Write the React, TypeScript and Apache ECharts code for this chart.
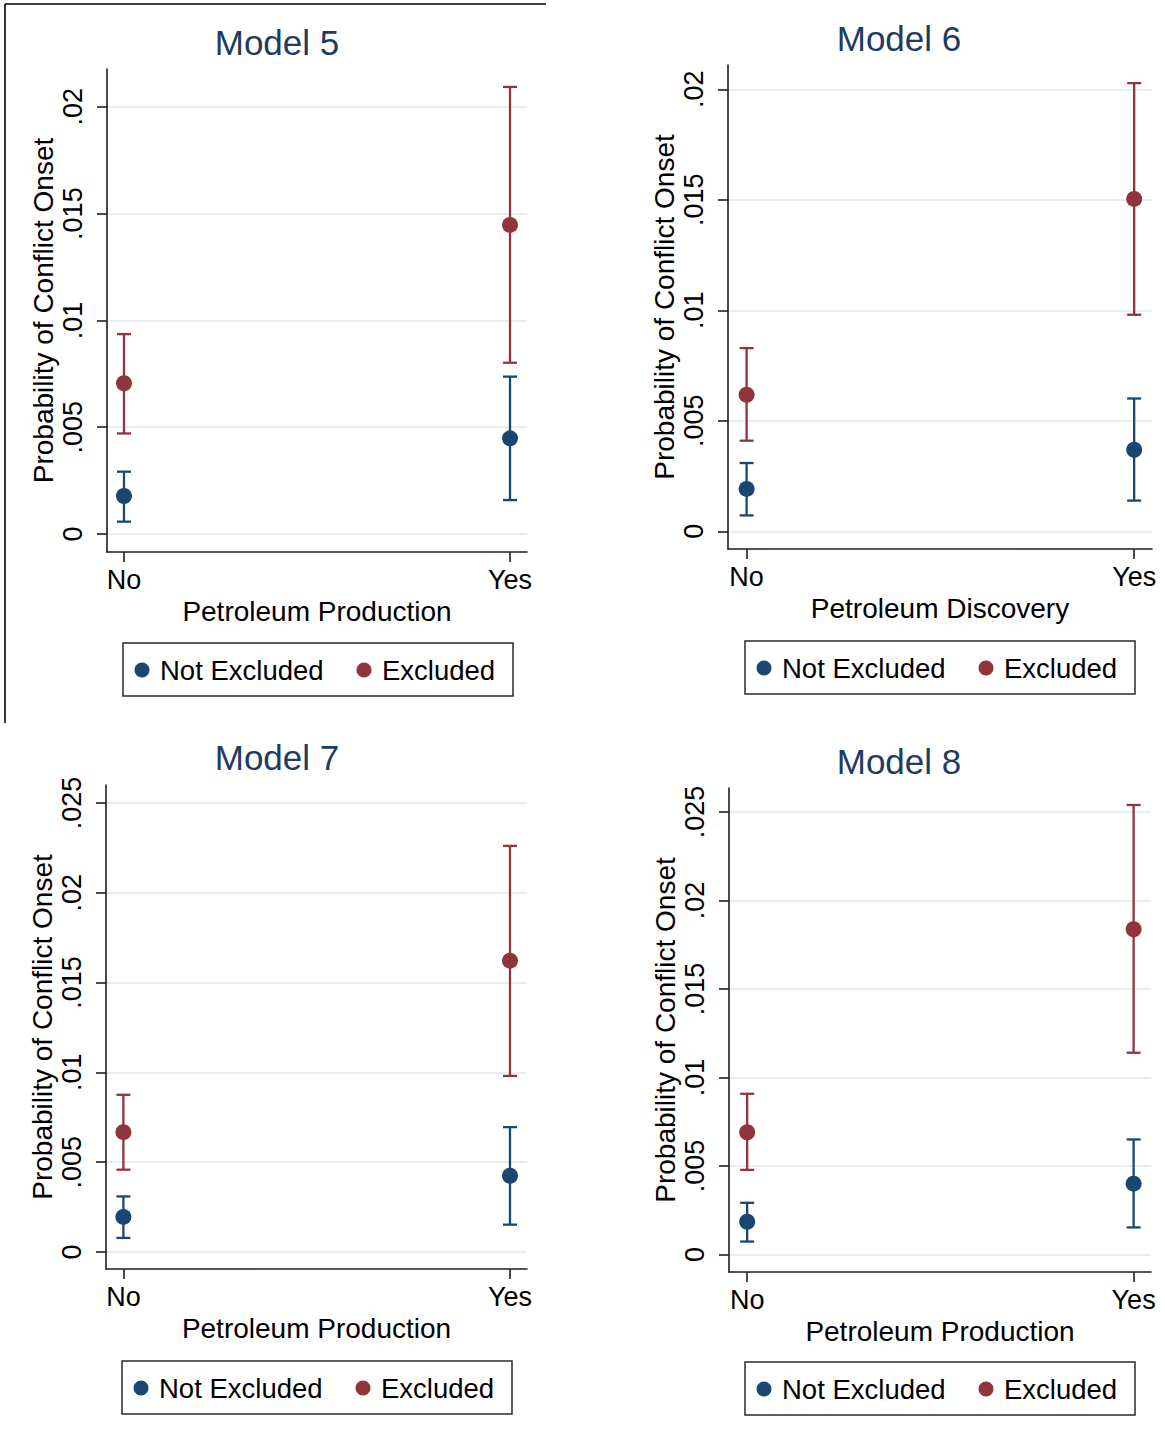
import React, { useEffect, useRef } from "react";
import * as echarts from "echarts";

const categories = ["No", "Yes"];
const xValues = [0, 1];
const seriesNames = ["Not Excluded", "Excluded"];
const titles = ["Model 5", "Model 6", "Model 7", "Model 8"];
const xAxisNames = ["Petroleum Production", "Petroleum Discovery", "Petroleum Production", "Petroleum Production"];
const yAxisName = "Probability of Conflict Onset";
const yTicksSmall = [0, 0.005, 0.01, 0.015, 0.02];
const yTicksLarge = [0, 0.005, 0.01, 0.015, 0.02, 0.025];

// Model 5
const m5NotExcluded = [0.00178, 0.00448];
const m5NotExcludedLow = [0.00058, 0.00159];
const m5NotExcludedHigh = [0.00292, 0.00737];
const m5Excluded = [0.00706, 0.01447];
const m5ExcludedLow = [0.00471, 0.00802];
const m5ExcludedHigh = [0.00936, 0.02093];

// Model 6
const m6NotExcluded = [0.00192, 0.00369];
const m6NotExcludedLow = [0.00072, 0.00139];
const m6NotExcludedHigh = [0.00309, 0.00601];
const m6Excluded = [0.00618, 0.01504];
const m6ExcludedLow = [0.0041, 0.0098];
const m6ExcludedHigh = [0.00829, 0.02028];

// Model 7
const m7NotExcluded = [0.00195, 0.00424];
const m7NotExcludedLow = [0.00078, 0.00152];
const m7NotExcludedHigh = [0.00309, 0.00695];
const m7Excluded = [0.00667, 0.01622];
const m7ExcludedLow = [0.00458, 0.0098];
const m7ExcludedHigh = [0.00875, 0.02261];

// Model 8
const m8NotExcluded = [0.00185, 0.004];
const m8NotExcludedLow = [0.00073, 0.00153];
const m8NotExcludedHigh = [0.00292, 0.0065];
const m8Excluded = [0.00691, 0.01838];
const m8ExcludedLow = [0.00478, 0.0114];
const m8ExcludedHigh = [0.00908, 0.0254];

const modelData = [
  { ne: [m5NotExcluded, m5NotExcludedLow, m5NotExcludedHigh], ex: [m5Excluded, m5ExcludedLow, m5ExcludedHigh] },
  { ne: [m6NotExcluded, m6NotExcludedLow, m6NotExcludedHigh], ex: [m6Excluded, m6ExcludedLow, m6ExcludedHigh] },
  { ne: [m7NotExcluded, m7NotExcludedLow, m7NotExcludedHigh], ex: [m7Excluded, m7ExcludedLow, m7ExcludedHigh] },
  { ne: [m8NotExcluded, m8NotExcludedLow, m8NotExcludedHigh], ex: [m8Excluded, m8ExcludedLow, m8ExcludedHigh] },
];

const NAVY = "#1a476f";
const MAROON = "#90353b";
const TITLE = "#1f3b60";
const FONT = "'Liberation Sans', Arial, sans-serif";
const GRIDLINE = "#e6eef1";
const AXIS = "#1e1e1e";

const layouts = [
  { grid: { left: 107, top: 69, width: 420, height: 483 }, yMin: -0.00084, yMax: 0.02177, xMin: -0.044, xMax: 1.044, ticks: yTicksSmall, titleX: 277, titleY: 42, legendX: 123, legendY: 643 },
  { grid: { left: 728, top: 65, width: 424, height: 484 }, yMin: -0.0008, yMax: 0.0211, xMin: -0.048, xMax: 1.046, ticks: yTicksSmall, titleX: 899, titleY: 38, legendX: 745, legendY: 641 },
  { grid: { left: 106, top: 785, width: 421, height: 484 }, yMin: -0.00095, yMax: 0.026, xMin: -0.045, xMax: 1.044, ticks: yTicksLarge, titleX: 277, titleY: 757, legendX: 122, legendY: 1361 },
  { grid: { left: 729, top: 788, width: 422, height: 484 }, yMin: -0.00099, yMax: 0.02636, xMin: -0.047, xMax: 1.045, ticks: yTicksLarge, titleX: 899, titleY: 761, legendX: 745, legendY: 1362 },
];

function fmtTick(v: number): string {
  if (Math.abs(v) < 1e-12) return "0";
  return String(+v.toFixed(4)).replace(/^0/, "");
}

function errorBarSeries(gridIndex: number, name: string, color: string, lo: number[], hi: number[]) {
  return {
    type: "custom",
    name,
    xAxisIndex: gridIndex,
    yAxisIndex: gridIndex,
    encode: { x: 0, y: [1, 2] },
    z: 2,
    data: xValues.map((x, i) => [x, lo[i], hi[i]]),
    renderItem: (params: any, api: any) => {
      const x = api.value(0);
      const pLo = api.coord([x, api.value(1)]);
      const pHi = api.coord([x, api.value(2)]);
      const cap = 7;
      const style = { stroke: color, lineWidth: 2.3 };
      return {
        type: "group",
        children: [
          { type: "line", shape: { x1: pLo[0], y1: pLo[1], x2: pHi[0], y2: pHi[1] }, style },
          { type: "line", shape: { x1: pLo[0] - cap, y1: pLo[1], x2: pLo[0] + cap, y2: pLo[1] }, style },
          { type: "line", shape: { x1: pHi[0] - cap, y1: pHi[1], x2: pHi[0] + cap, y2: pHi[1] }, style },
        ],
      };
    },
  };
}

function pointSeries(gridIndex: number, name: string, color: string, est: number[]) {
  return {
    type: "scatter",
    name,
    xAxisIndex: gridIndex,
    yAxisIndex: gridIndex,
    symbol: "circle",
    symbolSize: 16,
    z: 3,
    itemStyle: { color, opacity: 1 },
    data: xValues.map((x, i) => [x, est[i]]),
  };
}

export default function App() {
  const ref = useRef<HTMLDivElement>(null);
  useEffect(() => {
    if (!ref.current) return;
    const chart = echarts.init(ref.current, null, { renderer: "svg" });

    const grids: any[] = [];
    const xAxes: any[] = [];
    const yAxes: any[] = [];
    const series: any[] = [];
    const graphics: any[] = [];

    layouts.forEach((L, gi) => {
      grids.push({ ...L.grid, containLabel: false });
      xAxes.push({
        type: "value",
        gridIndex: gi,
        min: L.xMin,
        max: L.xMax,
        name: xAxisNames[gi],
        nameLocation: "middle",
        nameGap: 45,
        nameTextStyle: { fontSize: 28, fontFamily: FONT, color: "#000" },
        axisLine: { show: true, onZero: false, lineStyle: { color: AXIS, width: 1.6 } },
        axisTick: { show: true, inside: false, length: 10, customValues: xValues, lineStyle: { color: AXIS, width: 1.6 } },
        axisLabel: {
          show: true,
          customValues: xValues,
          margin: 14,
          fontSize: 27,
          fontFamily: FONT,
          color: "#000",
          formatter: (v: number) => categories[Math.round(v)] ?? "",
        },
        splitLine: { show: false },
      });
      yAxes.push({
        type: "value",
        gridIndex: gi,
        min: L.yMin,
        max: L.yMax,
        name: yAxisName,
        nameLocation: "middle",
        nameRotate: 90,
        nameGap: 50,
        nameTextStyle: { fontSize: 28, fontFamily: FONT, color: "#000" },
        axisLine: { show: true, onZero: false, lineStyle: { color: AXIS, width: 1.6 } },
        axisTick: { show: true, inside: false, length: 10, customValues: L.ticks, lineStyle: { color: AXIS, width: 1.6 } },
        axisLabel: {
          show: true,
          customValues: L.ticks,
          rotate: 90,
          margin: 21,
          fontSize: 27,
          fontFamily: FONT,
          color: "#000",
          formatter: (v: number) => fmtTick(v),
        },
        splitLine: { show: true, lineStyle: { color: GRIDLINE, width: 2 } },
      });

      const d = modelData[gi];
      series.push(errorBarSeries(gi, seriesNames[0], NAVY, d.ne[1], d.ne[2]));
      series.push(errorBarSeries(gi, seriesNames[1], MAROON, d.ex[1], d.ex[2]));
      series.push(pointSeries(gi, seriesNames[0], NAVY, d.ne[0]));
      series.push(pointSeries(gi, seriesNames[1], MAROON, d.ex[0]));

      graphics.push({
        type: "text",
        x: L.titleX,
        y: L.titleY,
        style: {
          text: titles[gi],
          fill: TITLE,
          fontSize: 35,
          fontFamily: FONT,
          align: "center",
          verticalAlign: "middle",
          textAlign: "center",
          textVerticalAlign: "middle",
        },
      });

      const lx = L.legendX;
      const ly = L.legendY;
      const cy = ly + 27;
      graphics.push({
        type: "group",
        children: [
          { type: "rect", shape: { x: lx, y: ly, width: 390, height: 53 }, style: { fill: "#fff", stroke: "#2a2a2a", lineWidth: 1.5 } },
          { type: "circle", shape: { cx: lx + 19, cy, r: 7.5 }, style: { fill: NAVY } },
          {
            type: "text",
            x: lx + 37,
            y: cy,
            style: { text: seriesNames[0], fill: "#000", fontSize: 27.5, fontFamily: FONT, align: "left", verticalAlign: "middle", textAlign: "left", textVerticalAlign: "middle" },
          },
          { type: "circle", shape: { cx: lx + 241, cy, r: 7.5 }, style: { fill: MAROON } },
          {
            type: "text",
            x: lx + 259,
            y: cy,
            style: { text: seriesNames[1], fill: "#000", fontSize: 27.5, fontFamily: FONT, align: "left", verticalAlign: "middle", textAlign: "left", textVerticalAlign: "middle" },
          },
        ],
      });
    });

    graphics.push({ type: "line", shape: { x1: 5, y1: 4, x2: 546, y2: 4 }, style: { stroke: "#000", lineWidth: 1.6 } });
    graphics.push({ type: "line", shape: { x1: 5, y1: 4, x2: 5, y2: 723 }, style: { stroke: "#000", lineWidth: 1.6 } });

    chart.setOption({
      animation: false,
      backgroundColor: "#fff",
      grid: grids,
      xAxis: xAxes,
      yAxis: yAxes,
      series,
      graphic: graphics,
    });

    return () => {
      chart.dispose();
    };
  }, []);

  return (
    <div
      ref={ref}
      style={{ position: "absolute", left: 0, top: 0, width: 1165, height: 1441, background: "#fff" }}
    />
  );
}
